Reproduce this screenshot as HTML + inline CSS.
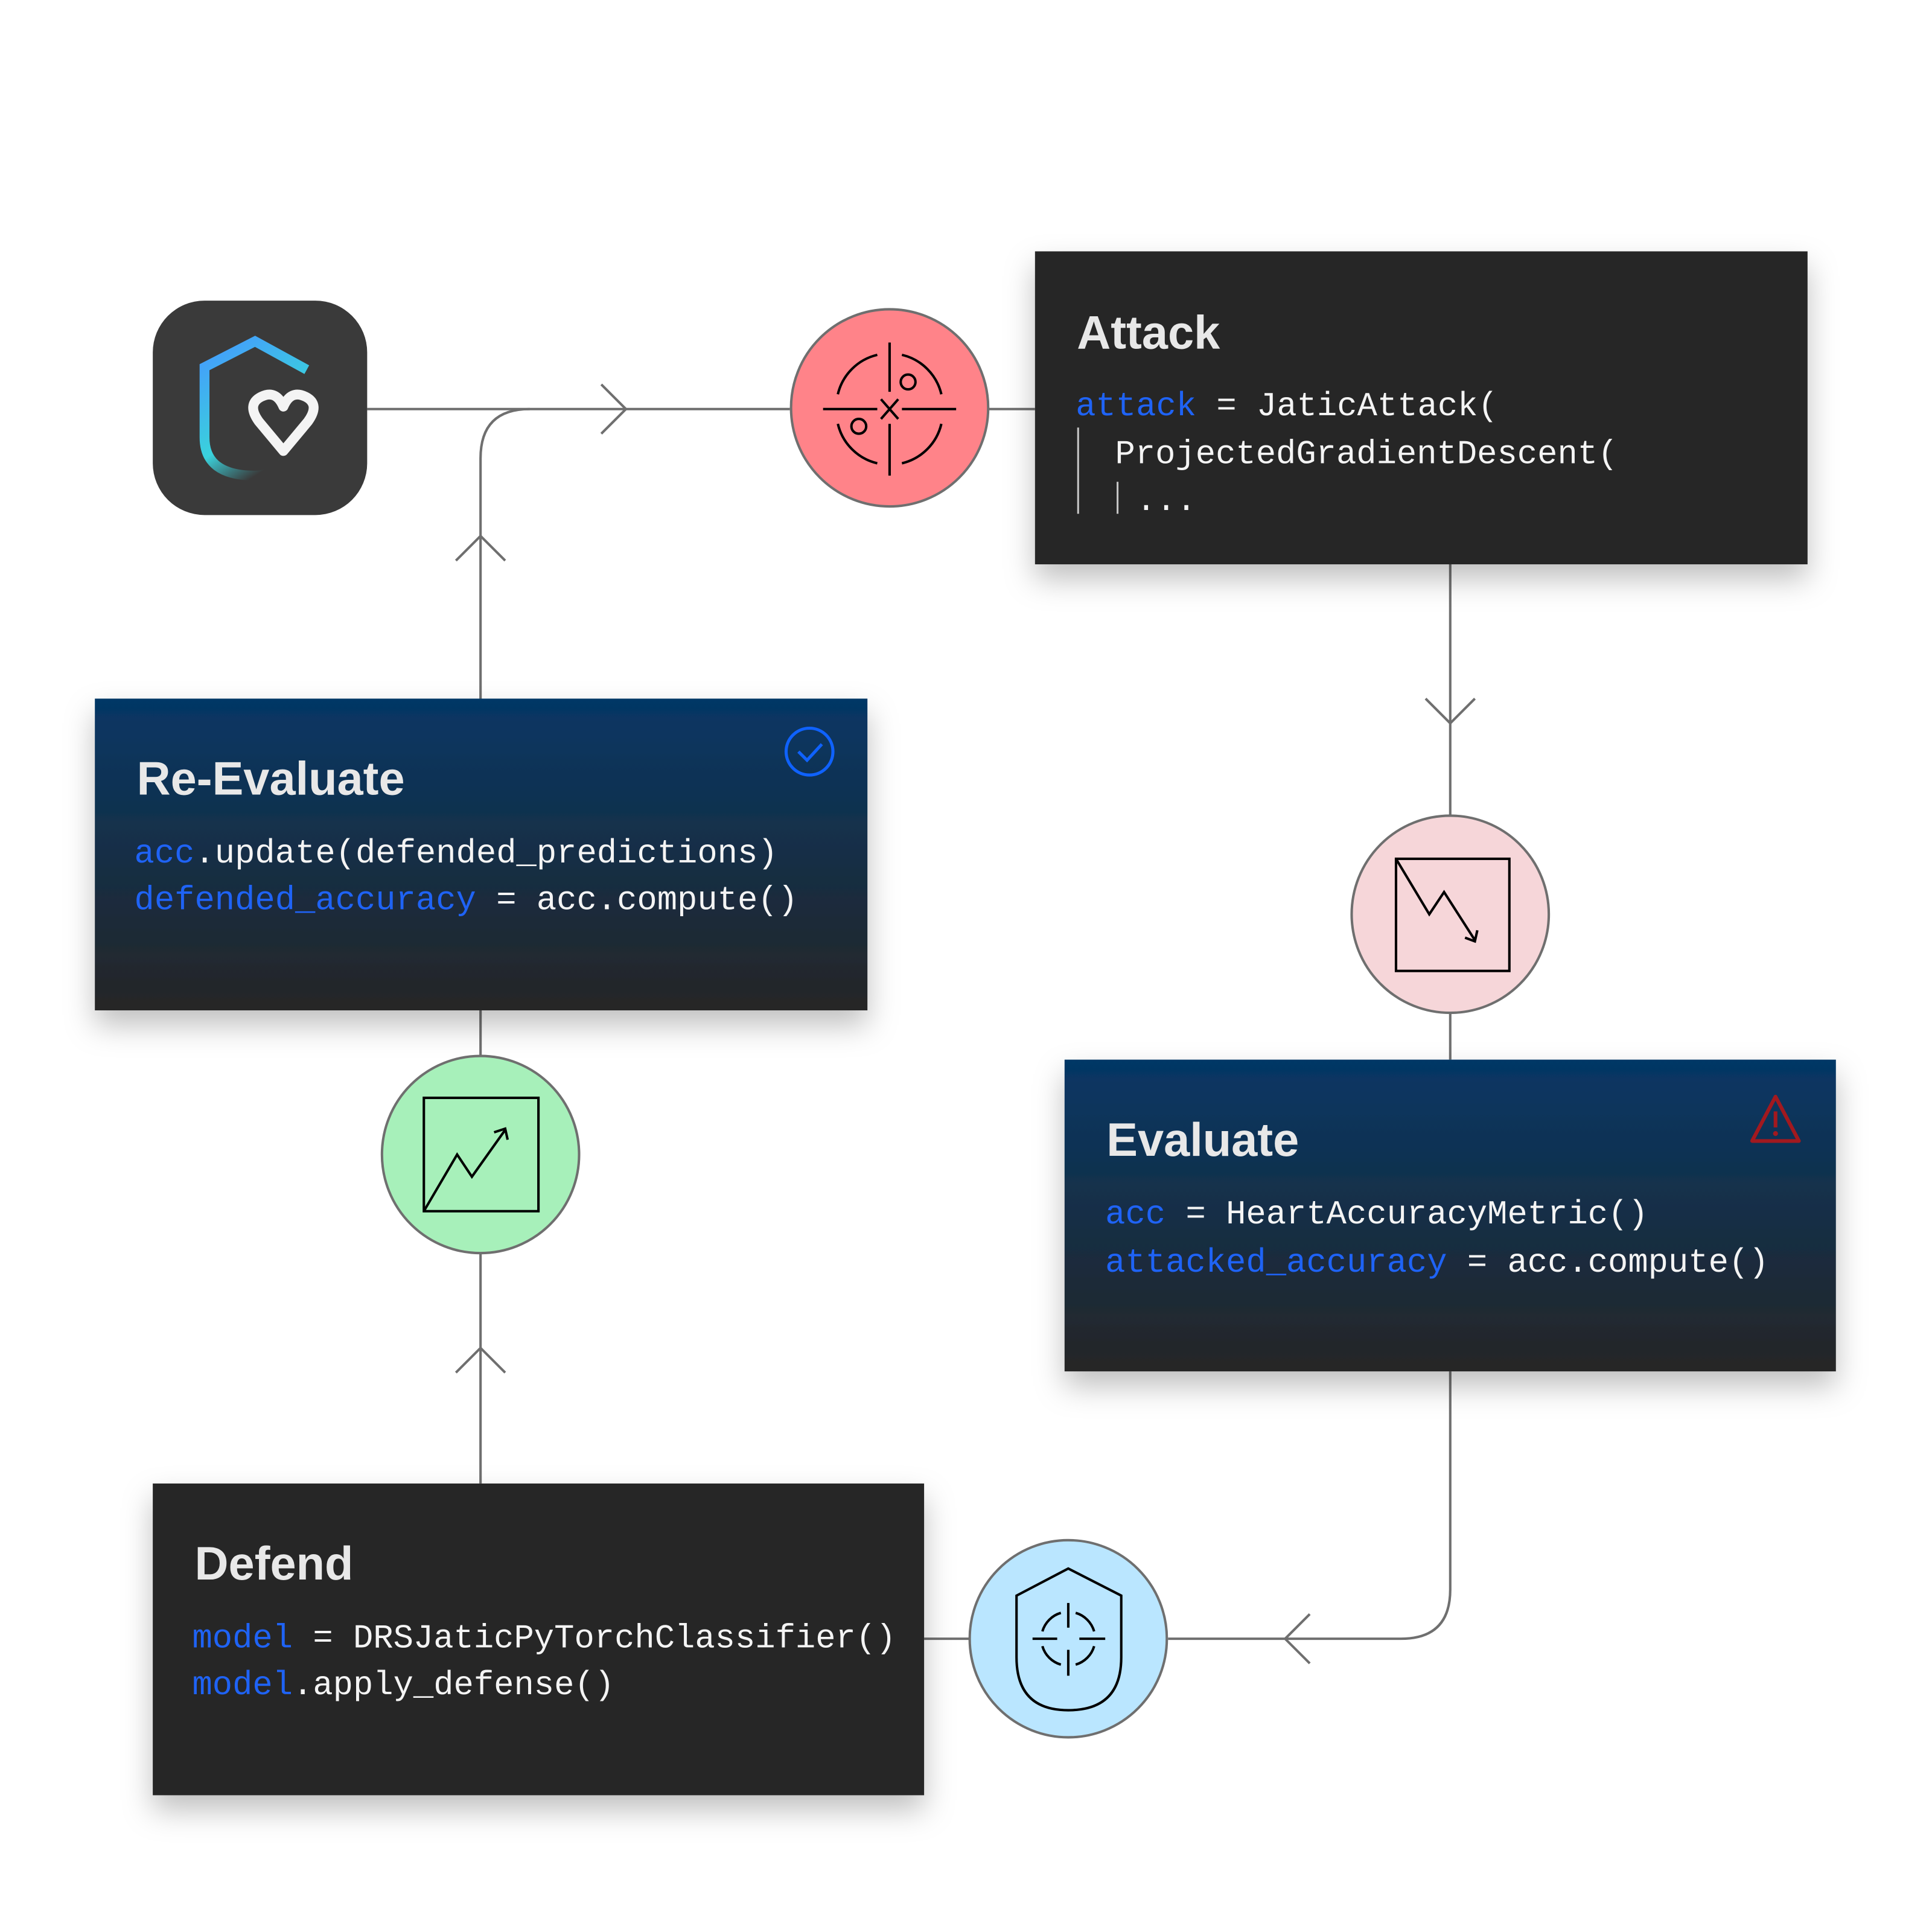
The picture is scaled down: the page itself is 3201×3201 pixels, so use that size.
<!DOCTYPE html>
<html><head><meta charset="utf-8"><style>
html,body{margin:0;padding:0;background:#fff;}
svg{display:block;}
.t{font-family:"Liberation Sans",sans-serif;font-weight:bold;font-size:38px;fill:#e8e8e8;}
.c{font-family:"Liberation Mono",monospace;font-size:27.2px;fill:#f4f4f4;}
.b{fill:#1f63f5;}
.ln{stroke:#6f6f6f;stroke-width:2;fill:none;}
.ic{stroke:#000;stroke-width:2;fill:none;}
</style></head><body>
<svg width="3201" height="3201" viewBox="0 0 1568 1568" xmlns="http://www.w3.org/2000/svg">
<defs>
<filter id="sh" x="-20%" y="-20%" width="140%" height="160%">
<feDropShadow dx="0" dy="12" stdDeviation="12" flood-color="#000" flood-opacity="0.25"/>
</filter>
<linearGradient id="bg" x1="0" y1="0" x2="0" y2="1">
<stop offset="0" stop-color="#053766"/><stop offset="1" stop-color="#262626"/>
</linearGradient>
<linearGradient id="lg" x1="0" y1="0" x2="0.5" y2="1">
<stop offset="0" stop-color="#4598ff"/><stop offset="0.7" stop-color="#3ad2dc"/><stop offset="1" stop-color="#3a3a3a"/>
</linearGradient>
</defs>
<rect width="1568" height="1568" fill="#fff"/>

<!-- connectors -->
<path class="ln" d="M298 332 H641"/>
<path class="ln" d="M488 312 L508 332 L488 352"/>
<path class="ln" d="M390 567 V372 Q390 332 430 332"/>
<path class="ln" d="M370 455 L390 435 L410 455"/>
<path class="ln" d="M802 332 H840"/>
<path class="ln" d="M1177 458 V663"/>
<path class="ln" d="M1157 567 L1177 587 L1197 567"/>
<path class="ln" d="M1177 822 V860"/>
<path class="ln" d="M1177 1113 V1290 Q1177 1330 1137 1330 H948"/>
<path class="ln" d="M1063 1310 L1043 1330 L1063 1350"/>
<path class="ln" d="M750 1330 H788"/>
<path class="ln" d="M390 1204 V1017"/>
<path class="ln" d="M370 1114 L390 1094 L410 1114"/>
<path class="ln" d="M390 820 V857"/>

<!-- logo -->
<rect x="124" y="244" width="174" height="174" rx="42" fill="#3a3a3a"/>
<path d="M249 300 L207 277 L166 298 V355 Q166 386 207 386 Q222 386 230 374" stroke="url(#lg)" stroke-width="8" fill="none"/>
<path d="M230 366 L210 342 Q200 328 212 322 Q224 316 230 330 Q236 316 248 322 Q260 328 250 342 Z" stroke="#f4f4f4" stroke-width="8" fill="none" stroke-linejoin="round"/>

<!-- red circle -->
<circle cx="722" cy="331" r="80" fill="#ff8389" stroke="#6f6f6f" stroke-width="2"/>
<g class="ic">
<path d="M722 278 V318 M722 344 V386 M668 332 H712 M732 332 H776"/>
<path d="M715 324 L729 340 M729 324 L715 340"/>
<path d="M680 320 A43 43 0 0 1 712 288 M732 288 A43 43 0 0 1 764 320 M764 344 A43 43 0 0 1 732 376 M712 376 A43 43 0 0 1 680 344"/>
<circle cx="737" cy="310" r="6"/><circle cx="697" cy="346" r="6"/>
</g>

<!-- Attack box -->
<rect x="840" y="204" width="627" height="254" fill="#262626" filter="url(#sh)"/>
<text class="t" x="874" y="283">Attack</text>
<text class="c" x="873" y="337"><tspan class="b">attack</tspan> = JaticAttack(</text>
<text class="c" x="905" y="376">ProjectedGradientDescent(</text>
<text class="c" x="922" y="414">...</text>
<path d="M875 347 V417 M907 391 V417" stroke="#c6c6c6" stroke-width="1.5"/>

<!-- pink circle -->
<circle cx="1177" cy="742" r="80" fill="#f6d6d9" stroke="#6f6f6f" stroke-width="2"/>
<g class="ic">
<rect x="1133" y="697" width="92" height="91"/>
<path d="M1133 697 L1160 742 L1172 724 L1197 763 M1189 761 L1197 764 L1199 755"/>
</g>

<!-- Evaluate box -->
<rect x="864" y="860" width="626" height="253" fill="url(#bg)" filter="url(#sh)"/>
<text class="t" x="898" y="938">Evaluate</text>
<text class="c" x="897" y="993"><tspan class="b">acc</tspan> = HeartAccuracyMetric()</text>
<text class="c" x="897" y="1032"><tspan class="b">attacked_accuracy</tspan> = acc.compute()</text>
<path d="M1441 890 L1460 926 H1422 Z" stroke="#a2191f" stroke-width="3" fill="none" stroke-linejoin="round"/>
<path d="M1441 902 V915" stroke="#a2191f" stroke-width="3"/>
<circle cx="1441" cy="920" r="2" fill="#a2191f"/>

<!-- blue circle -->
<circle cx="867" cy="1330" r="80" fill="#bae6ff" stroke="#6f6f6f" stroke-width="2"/>
<g class="ic">
<path d="M867 1273 L910 1295 V1345 Q910 1388 867 1388 Q825 1388 825 1345 V1295 Z"/>
<path d="M867 1301 V1321 M867 1339 V1360 M838 1330 H858 M876 1330 H897"/>
<path d="M846 1324 A22 22 0 0 1 861 1309 M873 1309 A22 22 0 0 1 888 1324 M888 1336 A22 22 0 0 1 873 1351 M861 1351 A22 22 0 0 1 846 1336"/>
</g>

<!-- Defend box -->
<rect x="124" y="1204" width="626" height="253" fill="#262626" filter="url(#sh)"/>
<text class="t" x="158" y="1282">Defend</text>
<text class="c" x="156" y="1337"><tspan class="b">model</tspan> = DRSJaticPyTorchClassifier()</text>
<text class="c" x="156" y="1375"><tspan class="b">model</tspan>.apply_defense()</text>

<!-- green circle -->
<circle cx="390" cy="937" r="80" fill="#a7f0ba" stroke="#6f6f6f" stroke-width="2"/>
<g class="ic">
<rect x="344" y="891" width="93" height="92"/>
<path d="M344 983 L371 937 L383 955 L410 917 M401 919 L410 916 L412 925"/>
</g>

<!-- Re-Evaluate box -->
<rect x="77" y="567" width="627" height="253" fill="url(#bg)" filter="url(#sh)"/>
<text class="t" x="111" y="645">Re-Evaluate</text>
<text class="c" x="109" y="700"><tspan class="b">acc</tspan>.update(defended_predictions)</text>
<text class="c" x="109" y="738"><tspan class="b">defended_accuracy</tspan> = acc.compute()</text>
<circle cx="657" cy="610" r="19" stroke="#0f62fe" stroke-width="2.5" fill="none"/>
<path d="M648 610 L655 617 L667 604" stroke="#0f62fe" stroke-width="2.5" fill="none"/>
</svg>
</body></html>
